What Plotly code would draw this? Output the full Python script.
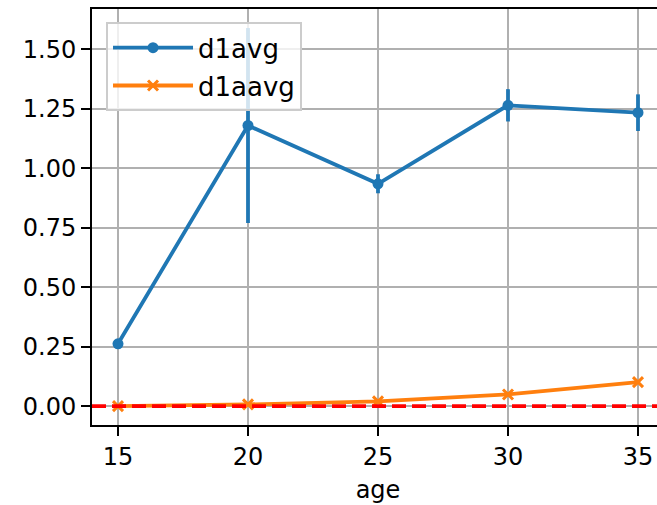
import plotly.graph_objects as go

age = [15, 20, 25, 30, 35]
d1avg = [0.262, 1.180, 0.935, 1.265, 1.234]
d1avg_err = [0.0, 0.41, 0.04, 0.068, 0.077]
d1aavg = [0.0, 0.007, 0.020, 0.049, 0.101]
d1aavg_err = [0.0, 0.003, 0.004, 0.005, 0.006]
x_ticks = [15, 20, 25, 30, 35]
y_ticks = [0.0, 0.25, 0.5, 0.75, 1.0, 1.25, 1.5]

BLUE = "#1f77b4"
ORANGE = "#ff7f0e"
FONT = "DejaVu Sans"

fig = go.Figure()
fig.add_trace(go.Scatter(
    x=age, y=d1avg, name="d1avg", mode="lines+markers", legendgroup="a",
    line=dict(color=BLUE, width=3.8),
    marker=dict(color=BLUE, size=11, symbol="circle"),
    error_y=dict(type="data", array=d1avg_err, visible=True, color=BLUE, thickness=3.8, width=0),
))
fig.add_trace(go.Scatter(
    x=age, y=d1aavg, name="d1aavg", mode="lines+markers", legendgroup="b",
    line=dict(color=ORANGE, width=3.8),
    marker=dict(color=ORANGE, size=10, symbol="x-thin", line=dict(color=ORANGE, width=3)),
    error_y=dict(type="data", array=d1aavg_err, visible=True, color=ORANGE, thickness=3.8, width=0),
))

fig.add_shape(type="line", xref="paper", x0=0, x1=1, yref="y", y0=0, y1=0,
              line=dict(color="red", width=3.8, dash="14px,6px"), layer="above")

axis_common = dict(
    showgrid=True, gridcolor="#b0b0b0", gridwidth=2,
    showline=True, linecolor="black", linewidth=2,
    ticks="outside", ticklen=9, tickwidth=2, tickcolor="black",
    zeroline=False, automargin=False,
    tickfont=dict(family=FONT, size=24, color="black"),
)

fig.update_layout(
    width=664, height=505,
    margin=dict(l=92, r=0, t=9, b=80),
    paper_bgcolor="white", plot_bgcolor="white",
    font=dict(family=FONT, size=24, color="black"),
    xaxis=dict(range=[14, 36], tickvals=x_ticks, ticktext=[str(v) for v in x_ticks],
               mirror=True,
               title=dict(text="age", font=dict(family=FONT, size=24), standoff=11),
               **axis_common),
    yaxis=dict(range=[-0.0795, 1.67], tickvals=y_ticks,
               ticktext=[f"{v:.2f}" for v in y_ticks],
               mirror=False, **axis_common),
    legend=dict(x=0.0245, y=0.968, xanchor="left", yanchor="top",
                bgcolor="rgba(255,255,255,0.8)", bordercolor="#cccccc", borderwidth=2,
                font=dict(family=FONT, size=26), itemwidth=80,
                traceorder="grouped", tracegroupgap=1),
    showlegend=True,
)

fig.write_html("out.html", config={"displayModeBar": False},
               post_script="document.body.style.margin='0';document.body.style.overflow='hidden';")
